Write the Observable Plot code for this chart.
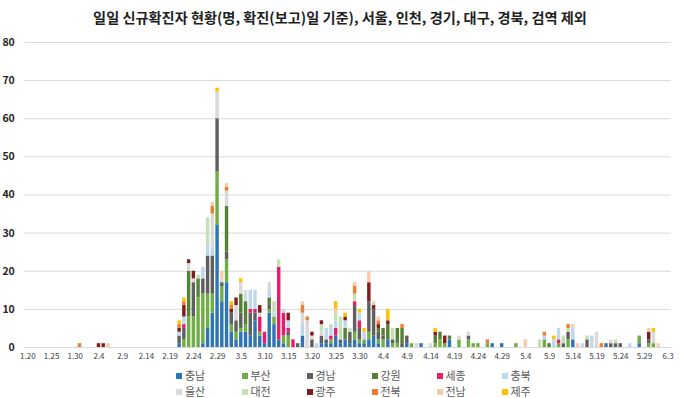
<!DOCTYPE html>
<html><head><meta charset="utf-8">
<script src="https://cdn.jsdelivr.net/npm/d3@7"></script>
<script src="https://cdn.jsdelivr.net/npm/@observablehq/plot@0.6"></script>
<style>
body{margin:0;background:#fff;font-family:"Noto Sans CJK KR","Noto Sans",sans-serif;}
#wrap{position:relative;width:680px;height:398px;overflow:hidden;}
#title{height:32px;line-height:34px;text-align:center;font-size:14.2px;font-weight:bold;color:#1f1f1f;white-space:nowrap;}
#legend{position:relative;height:29px;}
.li{position:absolute;font-size:11px;color:#595959;line-height:14px;white-space:nowrap;}
.sw{display:inline-block;width:6px;height:6px;margin-right:3px;vertical-align:1px;}
svg{display:block}
</style></head><body>
<div id="wrap"><div id="title">일일 신규확진자 현황(명, 확진(보고)일 기준), 서울, 인천, 경기, 대구, 경북, 검역 제외</div>
<div id="chart"></div><div id="legend"></div></div>
<script>
const regions = ["충남","부산","경남","강원","세종","충북","울산","대전","광주","전북","전남","제주"];
const colors = ["#2e75b6","#70ad47","#5f5f5f","#548235","#ec1a6a","#bdd7ee","#d9d9d9","#c5e0b4","#7f1d1d","#ed7d31","#f8cbad","#ffc000"];
const yTicks = [0,10,20,30,40,50,60,70,80];
const tickLabels = ["1.20","1.25","1.30","2.4","2.9","2.14","2.19","2.24","2.29","3.5","3.10","3.15","3.20","3.25","3.30","4.4","4.9","4.14","4.19","4.24","4.29","5.4","5.9","5.14","5.19","5.24","5.29","6.3"];

const chungnam = [["2.21",1],["2.26",1],["2.27",5],["2.28",9],["2.29",32],["3.1",12],["3.2",17],["3.3",4],["3.4",2],["3.5",4],["3.6",4],["3.7",3],["3.8",7],["3.9",3],["3.10",1],["3.11",9],["3.12",6],["3.13",2],["3.14",1],["3.18",3],["3.22",1],["3.23",1],["3.24",1],["3.25",3],["3.26",1],["3.27",2],["3.28",1],["3.29",2],["3.30",1],["3.31",1],["4.1",2],["4.2",3],["4.3",1],["4.5",2],["4.9",1],["4.12",1],["4.18",2],["4.27",1],["4.29",1],["5.14",2],["5.21",1],["5.28",1]];
const busan = [["2.22",2],["2.23",8],["2.24",8],["2.25",13],["2.26",13],["2.27",9],["2.28",5],["2.29",14],["3.1",4],["3.2",6],["3.3",2],["3.4",2],["3.5",1],["3.6",2],["3.9",1],["3.11",1],["3.12",2],["3.14",2],["3.15",3],["3.24",1],["3.29",2],["3.30",1],["3.31",1],["4.1",2],["4.3",1],["4.4",2],["4.6",1],["4.7",1],["4.10",1],["4.15",1],["4.16",2],["4.17",1],["4.20",2],["4.22",2],["4.23",1],["4.24",1],["4.26",1],["5.2",1],["5.8",2],["5.11",1],["5.13",2],["5.28",2],["5.30",1],["5.31",1]];
const gyeongnam = [["2.21",2],["2.22",3],["2.24",9],["2.26",4],["2.27",10],["2.28",10],["2.29",14],["3.1",1],["3.2",2],["3.3",3],["3.4",3],["3.5",4],["3.7",6],["3.8",2],["3.11",1],["3.15",1],["3.17",1],["3.20",2],["3.22",2],["3.23",1],["3.26",1],["3.28",3],["3.29",7],["3.30",3],["4.1",8],["4.2",7],["4.3",2],["4.4",1],["4.6",1],["4.8",1],["4.9",2],["4.22",1],["5.12",1],["5.13",2],["5.17",2],["5.22",1],["5.23",1],["5.24",1],["5.30",1]];
const gangwon = [["2.23",12],["2.25",5],["3.2",12],["3.5",5],["3.6",6],["3.11",2],["3.27",3],["4.3",1],["4.4",2],["4.5",4],["4.7",4],["4.8",4],["4.15",2],["4.16",2],["4.18",1],["5.9",1]];
const sejong = [["2.22",1],["3.7",1],["3.8",1],["3.9",4],["3.10",3],["3.13",19],["3.14",6],["3.15",1],["3.16",2],["3.24",1],["3.25",2],["3.29",1],["3.30",2],["5.11",1]];
const chungbuk = [["2.21",1],["2.22",2],["2.26",3],["2.27",3],["2.28",2],["3.7",5],["3.8",5],["3.11",2],["3.12",1],["3.14",1],["3.15",2],["3.18",3],["3.21",1],["3.23",3],["3.24",2],["3.25",2],["3.27",2],["3.30",2],["3.31",2],["5.8",1],["5.10",2],["5.11",3],["5.14",3],["5.16",1],["5.18",3],["5.26",1]];
const ulsan = [["2.23",2],["2.24",1],["2.28",9],["2.29",7],["3.1",1],["3.2",4],["3.4",4],["3.5",3],["3.6",3],["3.9",1],["3.11",2],["3.18",3],["3.19",7],["3.20",1],["3.22",1],["4.11",1],["4.14",1],["4.20",1],["4.22",1],["5.19",4],["5.22",1],["5.31",3]];
const daejeon = [["2.25",1],["2.27",7],["3.12",3],["3.13",2],["3.22",2],["3.24",1],["3.25",2],["3.26",6],["3.28",1],["3.29",2],["4.6",3],["5.7",2],["5.12",2],["5.13",1],["5.17",1],["5.23",1]];
const gwangju = [["2.4",1],["2.5",1],["2.21",1],["2.22",3],["2.23",1],["2.24",2],["3.3",1],["3.4",2],["3.9",2],["3.15",2],["3.20",1],["3.22",1],["3.27",1],["4.1",5],["4.2",1],["4.3",1],["4.5",1],["4.15",1],["4.17",2],["5.30",2]];
const jeonbuk = [["1.31",1],["2.21",1],["2.22",1],["2.28",2],["3.2",1],["3.3",1],["3.18",2],["3.19",1],["3.29",2],["4.3",1],["4.8",1],["4.26",1],["5.8",1],["5.13",1],["5.20",1]];
const jeonnam = [["2.6",1],["2.28",1],["3.1",2],["3.2",1],["3.18",1],["3.25",1],["3.29",1],["4.1",3],["4.2",1],["4.3",1],["5.4",2],["5.14",1],["5.15",1],["5.30",1],["6.1",1]];
const jeju = [["2.21",1],["2.22",1],["2.29",1],["3.3",1],["3.5",1],["3.25",2],["3.27",1],["3.30",1],["3.31",1],["4.5",3],["4.15",1],["5.10",1],["5.31",1]];
const series = [chungnam,busan,gyeongnam,gangwon,sejong,chungbuk,ulsan,daejeon,gwangju,jeonbuk,jeonnam,jeju];

const days = d3.utcDay.range(new Date(Date.UTC(2020,0,20)), new Date(Date.UTC(2020,5,4)))
  .map(d => `${d.getUTCMonth()+1}.${d.getUTCDate()}`);
const rows = [];
series.forEach((s, k) => s.forEach(([date, value]) => rows.push({date, region: regions[k], value})));

const chart = Plot.plot({
  width: 680, height: 337,
  marginTop: 10, marginBottom: 22, marginLeft: 24.3, marginRight: 9.3,
  style: {fontFamily: '"Noto Sans CJK KR","Noto Sans",sans-serif', background: "#fff"},
  x: {domain: days, padding: 0.28, label: null},
  y: {domain: [0, 80], label: null},
  color: {domain: regions, range: colors},
  marks: [
    Plot.ruleY(yTicks, {stroke: "#d9d9d9", strokeWidth: 1}),
    Plot.barY(rows, {x: "date", y: "value", fill: "region"}),
    Plot.axisX({ticks: tickLabels, tickSize: 0, tickPadding: 6, fontSize: 8, fill: "#404040", label: null}),
    Plot.axisY({ticks: yTicks, tickSize: 0, tickPadding: 10, fontSize: 10.5, fontWeight: "bold", fill: "#262626", label: null})
  ]
});
document.getElementById("chart").appendChild(chart);

const legend = document.getElementById("legend");
const colX = [176, 241.5, 306.5, 371.5, 436.5, 501.5];
regions.forEach((r, k) => {
  const el = document.createElement("div");
  el.className = "li";
  el.style.left = colX[k % 6] + "px";
  el.style.top = (k < 6 ? -1.5 : 14.5) + "px";
  el.innerHTML = `<span class="sw" style="background:${colors[k]}"></span>${r}`;
  legend.appendChild(el);
});
</script></body></html>
